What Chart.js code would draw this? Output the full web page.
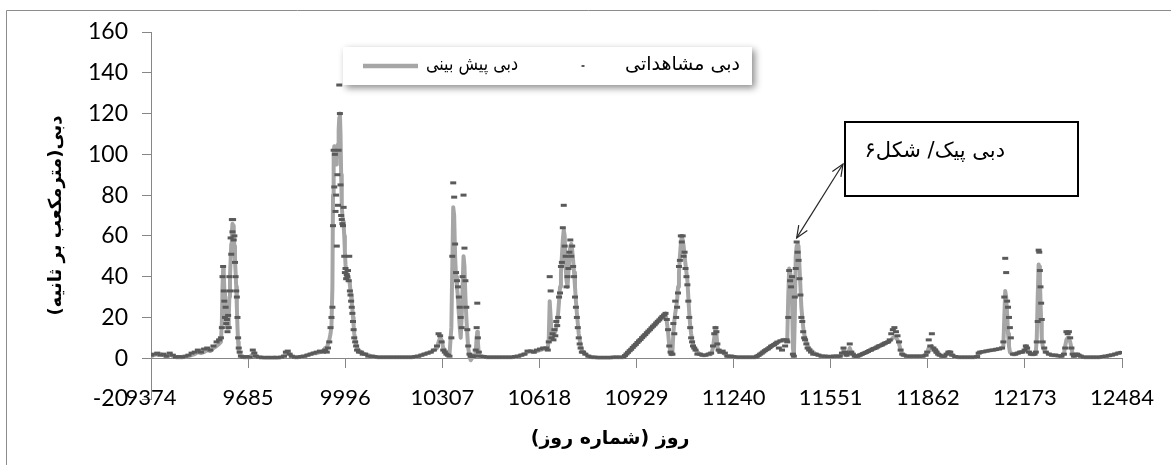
<!DOCTYPE html>
<html lang="fa">
<head>
<meta charset="utf-8">
<title>دبی پیش بینی و مشاهداتی</title>
<script src="https://cdn.jsdelivr.net/npm/chart.js@4.4.1/dist/chart.umd.min.js"></script>
<style>
  html, body { margin: 0; padding: 0; background: #ffffff; }
  #grafico { display: block; }
</style>
</head>
<body>
<canvas id="grafico" width="1171" height="465"></canvas>
<script>
// شماره روز (محور افقی)
const dias = [
  9374, 9384, 9394, 9404, 9414, 9424, 9434, 9444, 9454, 9464, 9474, 9484, 9494, 9504, 9514, 9524, 9534, 9544, 9554, 9564, 9574, 9584, 9592,
  9598, 9601, 9603, 9605, 9607, 9609, 9611, 9613, 9615, 9617, 9619, 9621, 9623, 9625, 9627, 9629, 9631, 9633, 9635, 9637, 9639, 9641, 9643, 9645, 9647, 9649, 9651, 9653, 9655, 9658, 9662,
  9670, 9680, 9690, 9700, 9705, 9710, 9720, 9730, 9740, 9750, 9760, 9770, 9780, 9790, 9800, 9806, 9812, 9818, 9825, 9835, 9845, 9855, 9865, 9875, 9885, 9895, 9905, 9915, 9925, 9932,
  9937, 9941, 9945, 9949, 9952, 9955, 9957, 9959, 9961, 9963, 9965, 9967, 9969, 9971, 9973, 9975, 9977, 9979, 9981, 9983, 9985, 9987, 9989, 9991, 9993, 9995, 9997, 9999, 10001, 10003, 10005, 10007, 10009, 10011, 10013, 10015, 10017, 10019, 10021, 10023, 10025, 10028, 10031, 10034, 10040, 10046, 10052, 10060, 10070,
  10080, 10090, 10100, 10110, 10120, 10130, 10140, 10150, 10160, 10170, 10180, 10190, 10200, 10210, 10220, 10230, 10240, 10250, 10260, 10270, 10280, 10290, 10295, 10300, 10305, 10310, 10315, 10320, 10325, 10330,
  10336, 10339, 10342, 10345, 10348, 10351, 10354, 10357, 10360, 10363, 10366, 10369, 10372, 10375, 10378, 10381, 10384, 10387, 10390, 10394, 10398, 10402, 10406, 10410, 10414, 10417, 10419, 10421, 10424, 10428,
  10440, 10450, 10460, 10470, 10480, 10490, 10500, 10510, 10520, 10530, 10540, 10550, 10560, 10570, 10580, 10590, 10600, 10610, 10620, 10630, 10640,
  10645, 10648, 10651, 10654, 10657, 10660, 10663, 10666, 10669, 10672, 10675, 10678, 10681, 10684, 10687, 10690, 10693, 10696, 10699, 10702, 10705, 10708, 10711, 10714, 10717, 10720, 10723, 10726, 10729, 10732, 10735, 10738, 10741, 10744, 10747, 10750, 10754, 10758, 10765, 10775,
  10785, 10795, 10805, 10815, 10825, 10835, 10845, 10855, 10865, 10875, 10887,
  10892, 10897, 10902, 10907, 10912, 10917, 10922, 10927, 10932, 10937, 10942, 10947, 10952, 10957, 10962, 10967, 10972, 10977, 10982, 10987, 10992, 10997, 11002, 11007, 11012, 11017, 11022, 11026, 11030, 11034, 11038, 11041,
  11044, 11047, 11050, 11053, 11056, 11059, 11062, 11065, 11068, 11071, 11074, 11077, 11080, 11083, 11086, 11089, 11092, 11095, 11098, 11101, 11104, 11107, 11110, 11114, 11118, 11124,
  11132, 11140, 11150, 11160, 11168, 11174, 11178, 11182, 11185, 11188, 11192, 11198, 11205, 11212, 11220, 11230, 11240, 11250, 11260, 11270, 11280, 11290, 11300, 11310,
  11315, 11320, 11325, 11330, 11335, 11340, 11345, 11350, 11355, 11360, 11365, 11370, 11375, 11380, 11385, 11390, 11395, 11400, 11405, 11410,
  11412, 11415, 11418, 11421, 11424, 11427, 11430, 11433, 11436, 11439, 11442, 11445, 11448, 11451, 11454, 11457, 11460, 11463, 11466, 11469, 11473, 11477, 11482, 11488, 11495, 11503,
  11512, 11522, 11532, 11542, 11552, 11562, 11572, 11580, 11587, 11592, 11597, 11602, 11607, 11612, 11617, 11622, 11628, 11635,
  11640, 11645, 11650, 11655, 11660, 11665, 11670, 11675, 11680, 11685, 11690, 11695, 11700, 11705, 11710, 11715, 11720, 11725, 11730, 11735, 11740, 11745, 11750, 11755, 11760, 11765, 11770, 11775, 11780, 11785,
  11795, 11805, 11815, 11825, 11835, 11845, 11855, 11860, 11865, 11870, 11875, 11880, 11885, 11890, 11895, 11900, 11908, 11915, 11922, 11928, 11934, 11940, 11950, 11960, 11970, 11980, 11990,
  12000, 12010, 12020, 12025, 12030, 12040, 12050, 12060, 12070, 12080, 12090, 12100, 12104, 12107, 12110, 12113, 12116, 12119, 12122, 12125, 12128, 12135, 12142, 12150, 12158, 12165, 12172, 12176, 12180, 12186, 12192, 12198, 12204, 12208, 12211, 12214, 12217, 12219, 12221, 12223, 12225, 12227, 12230, 12235, 12240,
  12250, 12260, 12270, 12280, 12290, 12298, 12302, 12306, 12310, 12314, 12318, 12322, 12326, 12330, 12335, 12340, 12345, 12352, 12362, 12372, 12382, 12392, 12402, 12412, 12422, 12432, 12442, 12452, 12462, 12472, 12482
]

// دبی پیش بینی (m3/s)
const dbiPishBini = [
  1, 1.5, 2, 2, 1.5, 1, 2, 1, 0.5, 0.5, 0.5, 0.8, 1, 1.5, 2, 3, 2.5, 3, 4, 3.5, 5, 6, 7,
  8, 18, 35, 44, 42, 33, 28, 22, 18, 15, 17, 15, 20, 30, 40, 48, 56, 62, 66, 65, 60, 55, 48, 42, 35, 25, 15, 8, 4, 2, 1,
  0.5, 0.5, 0.5, 2, 3, 1, 0.5, 0.5, 0.3, 0.3, 0.3, 0.5, 0.3, 0.5, 1, 2.5, 3, 2, 0.8, 0.5, 0.5, 0.8, 1, 1.5, 2, 2.5, 2.5, 3, 3.5, 5,
  5, 7, 9, 12, 16, 35, 80, 100, 104, 103, 100, 95, 98, 100, 105, 112, 118, 120, 110, 90, 75, 70, 67, 65, 60, 52, 46, 43, 42, 41, 40, 40, 38, 36, 33, 30, 27, 24, 20, 16, 12, 9, 7, 5, 4, 3, 2.5, 2, 1.5,
  1, 0.8, 0.5, 0.5, 0.5, 0.5, 0.5, 0.5, 0.5, 0.5, 0.5, 0.5, 0.5, 0.5, 0.8, 1, 1.5, 2, 2.5, 3, 4, 5, 8, 10, 9, 5, 4, 3, 2, 1.5,
  15, 45, 74, 70, 50, 40, 35, 30, 22, 15, 10, 20, 35, 50, 45, 30, 20, 12, 5, 1, -1, 0, 1, 1, 3, 10, 13, 8, 2, 1,
  0.8, 0.5, 0.5, 0.5, 0.5, 0.5, 0.5, 0.5, 0.5, 0.5, 0.8, 1, 1.5, 2, 3, 3.5, 3, 3.5, 4, 4.5, 5,
  5, 10, 28, 20, 12, 10, 11, 12, 13, 15, 18, 22, 28, 35, 42, 50, 58, 63, 60, 45, 38, 35, 42, 50, 55, 56, 53, 48, 42, 35, 28, 22, 17, 12, 9, 6, 4, 3, 2, 1,
  0.5, 0.5, 0.3, 0.3, 0.3, 0.3, 0.3, 0.5, 0.5, 0.5, 0.5,
  1.3, 2.1, 2.8, 3.7, 4.5, 5.2, 6.1, 6.9, 7.6, 8.5, 9.3, 10, 10.9, 11.7, 12.4, 13.3, 14.1, 14.8, 15.7, 16.5, 17.2, 18.1, 18.9, 19.6, 20.5, 21.3, 22, 18, 13, 6, 3, 2,
  3, 12, 18, 22, 25, 28, 35, 42, 50, 56, 60, 58, 55, 50, 46, 42, 38, 30, 22, 16, 12, 9, 7, 5, 4, 3,
  2, 1.5, 1.5, 2, 2, 5, 10, 15, 12, 6, 3, 3, 3, 2, 1, 1, 0.8, 0.5, 0.5, 0.5, 0.5, 0.5, 0.5, 0.5,
  1, 1.5, 2, 2.6, 3.1, 3.6, 4.2, 4.7, 5.2, 5.8, 6.3, 6.8, 7.3, 7.8, 8.2, 8.5, 8.8, 9, 8.5, 9,
  10, 30, 44, 42, 40, 30, 5, 1, 20, 50, 55, 56, 55, 45, 35, 25, 20, 15, 12, 10, 8, 6, 5, 4, 3, 2,
  1.5, 1, 1, 0.8, 0.8, 1, 1, 1, 2, 4, 3, 1.5, 2, 5, 3, 2, 1, 1,
  1.2, 1.5, 1.9, 2.2, 2.6, 3, 3.3, 3.7, 4, 4.4, 4.8, 5.1, 5.5, 5.9, 6.2, 6.6, 7, 7.3, 7.7, 8.1, 8.5, 9, 10, 10.5, 10, 9, 7, 4, 2, 1.5,
  1, 1, 1, 1, 1, 1, 1.5, 3, 5, 4, 6, 5, 3, 4, 2, 1.5, 1, 1, 2, 3, 3, 1.5, 0.8, 0.5, 0.5, 0.5, 0.5,
  0.5, 0.5, 0.8, 2.5, 3, 3.2, 3.5, 3.8, 4, 4.3, 4.6, 5, 6, 20, 33, 30, 22, 12, 6, 3, 2.5, 2, 2, 2.5, 3, 3, 4, 6, 5, 3, 2, 2, 2, 3, 10, 30, 46, 45, 38, 28, 18, 10, 6, 4, 3,
  2, 1.5, 1.5, 1.2, 1, 2, 6, 9, 10, 10, 8, 5, 2, 1, 1.5, 2, 1.5, 1, 0.5, 0.5, 0.5, 0.5, 0.5, 0.5, 0.8, 1, 1.3, 1.6, 2, 2.5, 2.8
]

// دبی مشاهداتی (m3/s)
const dbiMoshahedati = [
  1.5, 2, 2.5, 1.5, 2, 1, 2.5, 1.5, 0.5, 0.8, 0.5, 1, 1.5, 2.5, 3, 4, 3, 4.5, 5, 4, 6, 8, 9,
  10, 15, 40, 45, 33, 28, 20, 25, 17, 19, 13, 21, 15, 40, 33, 59, 51, 68, 62, 68, 58, 60, 47, 40, 33, 30, 20, 10, 5, 3, 1,
  0.5, 0.8, 0.5, 4, 2.5, 1, 0.5, 0.3, 0.3, 0.3, 0.3, 0.3, 0.3, 0.5, 1, 3, 3.5, 2, 1, 0.5, 0.5, 0.8, 1, 1.5, 2, 2.5, 3, 3.5, 3, 4,
  3, 5, 8, 15, 20, 25, 65, 102, 84, 100, 72, 80, 55, 90, 75, 102, 134, 120, 85, 70, 68, 66, 65, 74, 50, 42, 44, 39, 41, 40, 43, 38, 50, 33, 31, 28, 25, 22, 18, 14, 10, 8, 6, 4, 3, 3, 2, 2, 1,
  1, 0.8, 0.5, 0.5, 0.5, 0.5, 0.5, 0.5, 0.5, 0.5, 0.5, 0.5, 0.5, 0.5, 0.8, 1, 1.5, 2, 2.5, 3, 4, 6, 12, 11, 8, 4, 3, 2, 1.5, 1,
  10, 50, 86, 79, 56, 42, 38, 35, 30, 25, 20, 15, 40, 80, 54, 38, 25, 14, 6, 2, 1, 1, 1, 1, 4, 15, 27, 10, 3, 1,
  0.8, 0.5, 0.5, 0.5, 0.5, 0.5, 0.5, 0.5, 0.5, 0.5, 0.8, 1, 1.5, 2, 3.5, 3.5, 3, 4, 4.5, 5, 5,
  4, 8, 40, 33, 10, 12, 9, 14, 11, 18, 16, 20, 30, 32, 45, 47, 64, 75, 55, 50, 35, 40, 44, 52, 58, 50, 55, 45, 40, 30, 25, 20, 15, 10, 7, 5, 3, 3, 2, 1,
  0.5, 0.5, 0.3, 0.3, 0.3, 0.3, 0.3, 0.5, 0.5, 0.5, 0.5,
  1.3, 2.1, 2.9, 3.7, 4.4, 5.3, 6.1, 6.8, 7.7, 8.5, 9.2, 10.1, 10.9, 11.6, 12.5, 13.3, 14, 14.9, 15.7, 16.4, 17.3, 18.1, 18.8, 19.7, 20.5, 21.2, 22, 19, 14, 6, 3, 2,
  2, 17, 12, 28, 20, 25, 32, 45, 48, 60, 57, 60, 50, 52, 44, 40, 36, 28, 20, 15, 10, 8, 6, 5, 4, 2,
  2, 1.5, 1.5, 2, 2.5, 6, 12, 15, 13, 7, 4, 3, 3.5, 2.5, 1, 1, 0.8, 0.5, 0.5, 0.5, 0.5, 0.5, 0.5, 0.5,
  1, 1.4, 2, 2.5, 3.1, 3.7, 4.2, 4.6, 5.2, 5.9, 6.3, 6.7, 7.3, 7.9, 5, 8.5, 4, 9, 6, 9,
  8, 20, 43, 38, 35, 40, 2, 1, 30, 44, 57, 52, 48, 39, 31, 20, 18, 13, 10, 9, 7, 5, 4, 3, 2, 2,
  1.5, 1, 1, 0.8, 0.8, 1, 1, 1, 2.5, 5, 3, 1.5, 2.5, 7, 3, 2, 1, 1,
  1.2, 1.6, 1.9, 2.3, 2.6, 2.9, 3.3, 3.8, 4, 4.5, 4.8, 5, 5.5, 6, 6.2, 6.5, 7, 7.4, 7.7, 8, 9, 12, 14, 15, 13, 11, 8, 4, 2, 1.5,
  1, 1, 1, 1, 1, 1, 1.5, 3, 9, 6, 12, 5, 4, 3, 2, 1.5, 1, 1, 2, 3, 3, 1.5, 0.8, 0.5, 0.5, 0.5, 0.5,
  0.5, 0.5, 0.8, 2.5, 3, 3.2, 3.5, 3.8, 4, 4.3, 4.6, 5, 8, 30, 49, 42, 28, 25, 20, 15, 10, 2, 2, 2.5, 3, 3, 4, 6, 5, 3, 2, 2, 2, 3, 8, 18, 53, 52, 43, 35, 27, 19, 8, 5, 3,
  2, 1.5, 1.5, 1.2, 1, 2, 5, 13, 12, 13, 10, 5, 2, 1, 1.5, 2, 1.5, 1, 0.5, 0.5, 0.5, 0.5, 0.5, 0.5, 0.8, 1, 1.3, 1.6, 2, 2.5, 2.8
]

// برچسب های محور افقی
const ticksDias = [9374, 9685, 9996, 10307, 10618, 10929, 11240, 11551, 11862, 12173, 12484]

const nomePishBini = 'دبی پیش بینی'
const nomeMoshahedati = 'دبی مشاهداتی'
const textoNota = 'دبی پیک/ شکل۶'
const tituloX = 'روز (شماره روز)'
const tituloY = 'دبی(مترمکعب بر ثانیه)'
// نقطه ای که فلش به آن اشاره می کند
const diaPico = 11442
const vazaoPico = 59

const RLE = '\u202B', PDF = '\u202C'
const NBSP = '\u00A0'.repeat(8)   // عنوان افقی کمی به چپ
const fonteAr = "'DejaVu Sans', sans-serif"
const fonteNum = "Lato, 'Open Sans', sans-serif"

const moldura = {
    id: 'moldura',
    beforeDraw(chart) {
        const ctx = chart.ctx
        ctx.save()
        ctx.fillStyle = '#ffffff'
        ctx.fillRect(0, 0, chart.width, chart.height)
        ctx.strokeStyle = '#8c8c8c'
        ctx.lineWidth = 1
        ctx.beginPath()
        ctx.moveTo(6.5, chart.height)
        ctx.lineTo(6.5, 10.5)
        ctx.lineTo(chart.width, 10.5)
        ctx.stroke()
        ctx.restore()
    }
}

const legenda = {
    id: 'legenda',
    afterDraw(chart) {
        const ctx = chart.ctx
        // کادر با سایه
        ctx.save()
        ctx.shadowColor = 'rgba(0,0,0,0.45)'
        ctx.shadowBlur = 7
        ctx.shadowOffsetX = 3
        ctx.shadowOffsetY = 3
        ctx.fillStyle = '#ffffff'
        ctx.fillRect(343, 47, 409, 38)
        ctx.restore()

        ctx.save()
        ctx.strokeStyle = '#a6a6a6'
        ctx.lineWidth = 4.5
        ctx.beginPath()
        ctx.moveTo(363, 66)
        ctx.lineTo(418, 66)
        ctx.stroke()

        ctx.strokeStyle = '#595959'
        ctx.lineWidth = 2
        ctx.beginPath()
        ctx.moveTo(581.5, 66)
        ctx.lineTo(584.5, 66)
        ctx.stroke()

        ctx.fillStyle = '#000000'
        ctx.font = '19px ' + fonteAr
        ctx.direction = 'rtl'
        ctx.textAlign = 'right'
        ctx.textBaseline = 'middle'
        ctx.fillText(nomePishBini, 518, 65, 92)
        ctx.fillText(nomeMoshahedati, 740, 65, 118)
        ctx.restore()
    }
}

function pontaSeta(ctx, x0, y0, x1, y1) {
    // سر فلش باز در نقطه x1,y1
    const ang = Math.atan2(y1 - y0, x1 - x0)
    const tam = 13
    ctx.beginPath()
    ctx.moveTo(x1 - tam * Math.cos(ang - 0.4), y1 - tam * Math.sin(ang - 0.4))
    ctx.lineTo(x1, y1)
    ctx.lineTo(x1 - tam * Math.cos(ang + 0.4), y1 - tam * Math.sin(ang + 0.4))
    ctx.stroke()
}

const anotacao = {
    id: 'anotacao',
    afterDraw(chart) {
        const {ctx, scales: {x, y}} = chart
        ctx.save()
        ctx.fillStyle = '#ffffff'
        ctx.fillRect(845, 122, 233, 74)
        ctx.strokeStyle = '#000000'
        ctx.lineWidth = 2
        ctx.strokeRect(845, 122, 233, 74)

        ctx.fillStyle = '#000000'
        ctx.font = '21px ' + fonteAr
        ctx.direction = 'rtl'
        ctx.textAlign = 'right'
        ctx.textBaseline = 'middle'
        ctx.fillText(textoNota, 1005, 152, 142)

        const px = x.getPixelForValue(diaPico)
        const py = y.getPixelForValue(vazaoPico)
        const qx = 843, qy = 164
        ctx.strokeStyle = '#262626'
        ctx.lineWidth = 1.2
        ctx.beginPath()
        ctx.moveTo(px, py)
        ctx.lineTo(qx, qy)
        ctx.stroke()
        pontaSeta(ctx, px, py, qx, qy)
        pontaSeta(ctx, qx, qy, px, py)
        ctx.restore()
    }
}

const grafico = document.getElementById('grafico')

new Chart(grafico, {
    type: 'line',
    data: {
        datasets: [
            {
                label: nomeMoshahedati,
                data: dias.map((d, i) => ({x: d, y: dbiMoshahedati[i]})),
                showLine: false,
                pointStyle: 'line',
                pointRadius: 3,
                pointHoverRadius: 3,
                pointBorderWidth: 3,
                pointBorderColor: '#5a5a5a',
                pointBackgroundColor: '#5a5a5a',
                order: 0
            },
            {
                label: nomePishBini,
                data: dias.map((d, i) => ({x: d, y: dbiPishBini[i]})),
                borderColor: '#a6a6a6',
                borderWidth: 4,
                pointRadius: 0,
                tension: 0,
                borderJoinStyle: 'round',
                order: 1
            }
        ]
    },
    options: {
        responsive: false,
        animation: false,
        devicePixelRatio: 1,
        layout: {
            padding: {left: 0, top: 32, right: 49, bottom: 66}
        },
        plugins: {
            legend: {display: false},
            tooltip: {enabled: false}
        },
        scales: {
            x: {
                type: 'linear',
                position: {y: 0},
                min: 9374,
                max: 12484,
                afterBuildTicks: (scale) => {
                    scale.ticks = ticksDias.map(v => ({value: v}))
                },
                border: {display: true, color: '#868686', width: 1},
                grid: {display: true, drawOnChartArea: false, drawTicks: true, tickLength: 9, color: '#868686'},
                ticks: {
                    color: '#000000',
                    font: {family: fonteNum, size: 22},
                    padding: 17,
                    maxRotation: 0,
                    autoSkip: false,
                    callback: (v) => String(v)
                },
                title: {
                    display: true,
                    text: RLE + NBSP + tituloX + PDF,
                    color: '#000000',
                    font: {family: fonteAr, size: 19, weight: 'bold'},
                    padding: {top: 0, bottom: 0}
                }
            },
            y: {
                min: -20,
                max: 160,
                afterFit: (scale) => { scale.width = 151 },
                border: {display: true, color: '#868686', width: 1},
                grid: {display: true, drawOnChartArea: false, drawTicks: true, tickLength: 9, color: '#868686'},
                ticks: {
                    stepSize: 20,
                    color: '#000000',
                    font: {family: fonteNum, size: 23},
                    padding: 14
                },
                title: {
                    display: true,
                    text: RLE + tituloY + PDF,
                    color: '#000000',
                    font: {family: fonteAr, size: 18, weight: 'bold'},
                    padding: {top: 46, bottom: 0}
                }
            }
        }
    },
    plugins: [moldura, legenda, anotacao]
})
</script>
</body>
</html>
